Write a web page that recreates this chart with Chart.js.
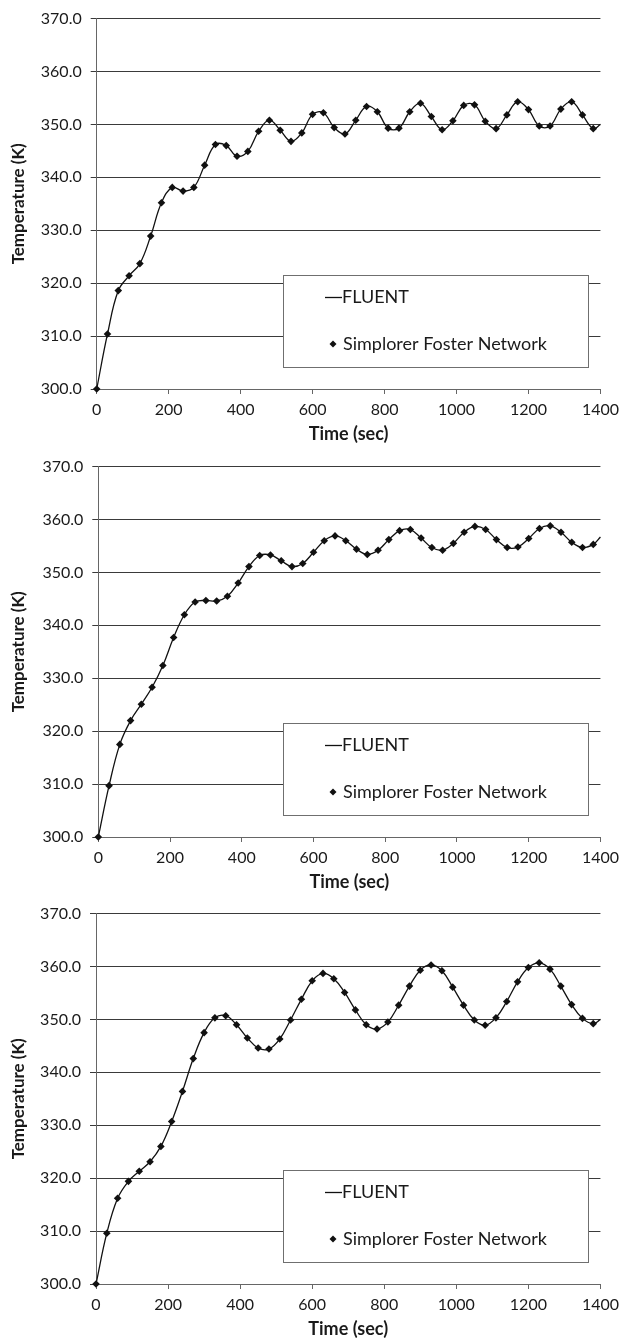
<!DOCTYPE html>
<html>
<head>
<meta charset="utf-8">
<script src="https://cdn.jsdelivr.net/npm/chart.js@4/dist/chart.umd.min.js"></script>
<style>
  html, body { margin: 0; padding: 0; background: #fff; }
  body { width: 625px; height: 1339px; position: relative; overflow: hidden; }
  .panel { position: absolute; left: 0; width: 625px; height: 446px; }
</style>
</head>
<body>
<div class="panel" style="top:0px"><canvas id="c1"></canvas></div>
<div class="panel" style="top:448px"><canvas id="c2"></canvas></div>
<div class="panel" style="top:895px"><canvas id="c3"></canvas></div>
<script>
// sample times (sec) of the Simplorer markers
const timeSec = [0, 30, 60, 90, 120, 150, 180, 210, 240, 270, 300, 330, 360, 390, 420, 450,
  480, 510, 540, 570, 600, 630, 660, 690, 720, 750, 780, 810, 840, 870, 900, 930, 960, 990,
  1020, 1050, 1080, 1110, 1140, 1170, 1200, 1230, 1260, 1290, 1320, 1350, 1380];
const endTime = 1400;

// temperatures (K), top chart
const temps1 = [300.0, 310.4, 318.6, 321.4, 323.7, 328.9, 335.2, 338.1, 337.4, 338.1,
  342.3, 346.2, 346.0, 344.0, 344.9, 348.7, 350.8, 348.9, 346.8, 348.4,
  351.9, 352.2, 349.4, 348.2, 350.8, 353.4, 352.4, 349.3, 349.3, 352.4,
  354.0, 351.5, 349.0, 350.7, 353.6, 353.7, 350.6, 349.2, 351.8, 354.3,
  352.8, 349.7, 349.7, 352.9, 354.3, 351.8, 349.2];
// middle chart
const temps2 = [300.0, 309.7, 317.5, 322.0, 325.1, 328.3, 332.4, 337.7, 342.0, 344.4,
  344.7, 344.6, 345.5, 348.0, 351.1, 353.2, 353.3, 352.2, 351.1, 351.7,
  353.8, 356.0, 356.9, 356.0, 354.4, 353.4, 354.2, 356.2, 357.9, 358.1,
  356.5, 354.7, 354.2, 355.5, 357.6, 358.7, 358.1, 356.2, 354.7, 354.8,
  356.4, 358.3, 358.8, 357.6, 355.7, 354.7, 355.3];
// bottom chart
const temps3 = [300.0, 309.6, 316.2, 319.4, 321.3, 323.1, 326.0, 330.7, 336.4, 342.6,
  347.5, 350.3, 350.7, 349.0, 346.5, 344.6, 344.4, 346.3, 349.9, 353.8,
  357.3, 358.7, 357.7, 355.1, 351.8, 349.0, 348.2, 349.5, 352.7, 356.3,
  359.3, 360.3, 359.2, 356.1, 352.7, 349.9, 348.9, 350.3, 353.4, 357.1,
  359.8, 360.7, 359.5, 356.3, 352.8, 350.2, 349.2];
// FLUENT curve value at 1400 s (line only, no marker)
const fluentEnd = [350.0, 356.7, 350.0];

const yTicks = [300, 310, 320, 330, 340, 350, 360, 370];
const xTicks = [0, 200, 400, 600, 800, 1000, 1200, 1400];

const FONT = 'Lato, "Open Sans", sans-serif';

const legendBox = {
  id: 'legendBox',
  afterDraw(chart) {
    const ctx = chart.ctx;
    ctx.save();
    ctx.fillStyle = '#fff';
    ctx.fillRect(283.5, 275.5, 305, 92);
    ctx.strokeStyle = '#6f6f6f';
    ctx.lineWidth = 1;
    ctx.strokeRect(283.5, 275.5, 305, 92);
    ctx.strokeStyle = '#111';
    ctx.lineWidth = 1.3;
    ctx.beginPath(); ctx.moveTo(325, 297.5); ctx.lineTo(342, 297.5); ctx.stroke();
    ctx.fillStyle = '#111';
    ctx.beginPath();
    ctx.moveTo(333, 340.5); ctx.lineTo(336.5, 344); ctx.lineTo(333, 347.5); ctx.lineTo(329.5, 344);
    ctx.closePath(); ctx.fill();
    ctx.font = '18px ' + FONT;
    ctx.textBaseline = 'middle';
    ctx.fillStyle = '#1a1a1a';
    ctx.fillText('FLUENT', 342, 297);
    ctx.fillText('Simplorer Foster Network', 343, 344);
    ctx.restore();
  }
};

function makeChart(id, temps, end, leftW) {
  const pts = timeSec.map((t, i) => ({ x: t, y: temps[i] }));
  const line = pts.concat([{ x: endTime, y: end }]);
  return new Chart(document.getElementById(id), {
    type: 'scatter',
    data: {
      datasets: [
        { label: 'FLUENT', data: line, showLine: true, borderColor: '#111', borderWidth: 1.3,
          tension: 0.4, pointRadius: 0, fill: false, order: 2, clip: false },
        { label: 'Simplorer Foster Network', data: pts, showLine: false, pointStyle: 'rectRot',
          pointRadius: 3.8, backgroundColor: '#111', borderColor: '#111', borderWidth: 0, order: 1,
          clip: false }
      ]
    },
    options: {
      responsive: true, maintainAspectRatio: false, animation: false,
      layout: { padding: { top: 17, right: 23, bottom: 0, left: 0 } },
      plugins: { legend: { display: false }, tooltip: { enabled: false } },
      scales: {
        x: {
          type: 'linear', min: 0, max: 1400,
          afterBuildTicks: s => { s.ticks = xTicks.map(v => ({ value: v })); },
          afterFit: s => { s.height = 57; },
          grid: { drawOnChartArea: false, drawTicks: true, tickLength: 5, color: '#666' },
          border: { color: '#666', width: 1 },
          ticks: { font: { family: FONT, size: 16 }, color: '#1a1a1a', padding: 6, maxRotation: 0,
            callback: v => String(v) },
          title: { display: true, text: 'Time (sec)', font: { family: FONT, size: 18, weight: 'bold' },
            color: '#1a1a1a', padding: { top: 0, bottom: 1 } }
        },
        y: {
          min: 300, max: 370,
          afterBuildTicks: s => { s.ticks = yTicks.map(v => ({ value: v })); },
          afterFit: s => { s.width = leftW; },
          grid: { color: '#3a3a3a', lineWidth: 1, drawTicks: true, tickLength: 6 },
          border: { color: '#666', width: 1 },
          ticks: { font: { family: FONT, size: 16 }, color: '#1a1a1a', padding: 9,
            callback: v => v.toFixed(1) },
          title: { display: true, text: 'Temperature (K)', font: { family: FONT, size: 17, weight: 'bold' },
            color: '#1a1a1a', padding: { top: 8, bottom: 0 } }
        }
      }
    },
    plugins: [legendBox]
  });
}

makeChart('c1', temps1, fluentEnd[0], 96.7);
makeChart('c2', temps2, fluentEnd[1], 98.3);
makeChart('c3', temps3, fluentEnd[2], 96);
</script>
</body>
</html>
